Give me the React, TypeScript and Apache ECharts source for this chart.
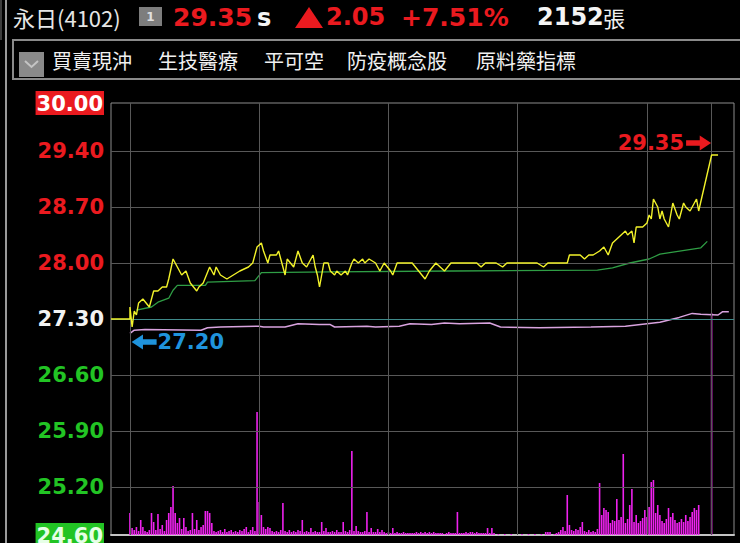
import React, { useEffect, useRef } from "react";
import * as echarts from "echarts";

// ---- header / toolbar texts ----
const stockName = "永日(4102)";
const lastPrice = "29.35";
const tradeFlag = "s";
const change = "2.05";
const changePct = "+7.51%";
const totalVolume = "2152";
const volumeUnit = "張";
const tabs = ["買賣現沖", "生技醫療", "平可空", "防疫概念股", "原料藥指標"];

// ---- axes ----
const prevClose = 27.3;
const yMin = 24.6; // limit down
const yMax = 30.0; // limit up
const priceTicks = [30.0, 29.4, 28.7, 28.0, 27.3, 26.6, 25.9, 25.2, 24.6];
const gridPrices = [29.4, 28.7, 28.0, 26.6, 25.9, 25.2];
const hourMarks = [0, 60, 120, 180, 240, 270]; // minutes after 09:00
const xMin = -8.8;
const xMax = 280.4;
const volMax = 432;

// ---- price (minute after 09:00, price) ----
const price: [number, number][] = [
  [0, 27.45], [1, 27.2], [2, 27.4], [3, 27.35], [4, 27.5], [6, 27.55], [9, 27.45], [11, 27.65],
  [13, 27.65], [15, 27.7], [17, 27.7], [18, 27.8], [20, 28.05], [22, 27.95], [24, 27.85], [26, 27.9],
  [28, 27.75], [31, 27.65], [32, 27.7], [34, 27.75], [37, 27.95], [39, 27.85], [40, 27.95], [42, 27.85],
  [45, 27.8], [48, 27.85], [51, 27.9], [55, 27.95], [57, 28.0], [59, 28.2], [61, 28.25], [62, 28.15],
  [64, 28.0], [65, 28.1], [68, 28.1], [69, 28.15], [71, 27.95], [72, 27.85], [73, 28.05], [76, 27.95],
  [78, 28.15], [80, 28.0], [82, 27.95], [85, 28.1], [86, 27.95], [87, 27.85], [88, 27.7], [90, 28.0],
  [92, 28.0], [93, 27.9], [95, 27.85], [96, 27.9], [98, 27.85], [100, 27.9], [101, 27.85], [103, 28.0],
  [104, 28.05], [106, 28.0], [108, 28.05], [109, 28.0], [111, 28.05], [114, 28.0], [116, 27.9], [118, 28.0],
  [121, 27.9], [122, 27.85], [124, 28.0], [127, 28.0], [131, 28.0], [134, 27.9], [137, 27.8], [139, 27.9],
  [142, 28.0], [144, 27.95], [146, 27.9], [149, 28.0], [152, 28.0], [161, 28.0], [163, 27.95], [165, 28.0],
  [170, 28.0], [173, 27.95], [175, 28.0], [189, 28.0], [192, 27.95], [194, 28.0], [203, 28.0], [204, 28.1],
  [209, 28.1], [211, 28.05], [213, 28.1], [215, 28.1], [218, 28.15], [220, 28.2], [222, 28.1], [224, 28.25],
  [226, 28.3], [228, 28.35], [230, 28.4], [231, 28.35], [233, 28.4], [234, 28.25], [235, 28.45], [238, 28.45],
  [240, 28.5], [241, 28.6], [242, 28.55], [243, 28.8], [245, 28.7], [246, 28.55], [247, 28.65], [248, 28.55],
  [250, 28.45], [252, 28.75], [254, 28.6], [255, 28.55], [257, 28.75], [258, 28.7], [260, 28.65], [262, 28.75],
  [263, 28.8], [264, 28.65], [270, 29.35], [273, 29.35],
];

// ---- average price ----
const avgPrice: [number, number][] = [
  [3, 27.41], [10, 27.45], [13, 27.51], [18, 27.56], [20, 27.66], [22, 27.72], [35, 27.72], [36, 27.76],
  [58, 27.78], [61, 27.88], [93, 27.89], [150, 27.9], [217, 27.91], [224, 27.94], [232, 28.0], [241, 28.05],
  [246, 28.11], [265, 28.19], [268, 28.27],
];

// ---- lavender indicator line ----
const indicator: [number, number][] = [
  [0, 27.12], [2, 27.16], [7, 27.17], [33, 27.16], [36, 27.19], [42, 27.2], [60, 27.21], [62, 27.2],
  [72, 27.2], [78, 27.24], [88, 27.23], [93, 27.23], [95, 27.2], [110, 27.21], [114, 27.2], [125, 27.21],
  [130, 27.24], [140, 27.23], [146, 27.25], [153, 27.24], [167, 27.25], [172, 27.2], [190, 27.19],
  [214, 27.2], [230, 27.21], [246, 27.26], [255, 27.32], [261, 27.37], [265, 27.36], [273, 27.35], [275, 27.39],
  [278, 27.39],
];

// ---- volume per minute (張), minutes 0..264, plus closing auction ----
const volume = [
  22, 7, 5, 8, 4, 15, 8, 4, 3, 5,
  22, 13, 5, 21, 6, 10, 4, 15, 22, 28,
  49, 22, 12, 17, 6, 17, 8, 4, 5, 22,
  6, 15, 5, 8, 10, 24, 24, 22, 12, 4,
  3, 4, 5, 3, 6, 3, 4, 5, 3, 4,
  3, 5, 4, 6, 8, 3, 5, 8, 4, 123,
  33, 20, 8, 6, 8, 7, 4, 3, 4, 3,
  5, 32, 4, 3, 5, 3, 4, 3, 5, 4,
  15, 3, 4, 3, 7, 3, 4, 3, 3, 13,
  4, 7, 3, 3, 4, 3, 5, 3, 3, 13,
  4, 3, 5, 84, 4, 9, 4, 3, 3, 4,
  23, 3, 7, 3, 3, 6, 3, 5, 3, 2,
  3, 2, 7, 2, 3, 2, 2, 3, 2, 2,
  2, 2, 2, 3, 2, 3, 2, 3, 2, 3,
  2, 3, 2, 2, 2, 2, 1, 2, 3, 2,
  2, 2, 23, 2, 2, 2, 3, 2, 3, 3,
  2, 3, 2, 2, 2, 2, 7, 2, 7, 2,
  0, 1, 0, 0, 1, 0, 0, 1, 0, 0,
  0, 0, 1, 0, 0, 1, 0, 0, 1, 0,
  0, 1, 0, 3, 3, 3, 0, 1, 2, 3,
  5, 8, 4, 40, 10, 5, 4, 6, 5, 8,
  13, 4, 3, 5, 3, 4, 3, 6, 52, 20,
  27, 25, 23, 12, 15, 14, 36, 15, 18, 81,
  12, 16, 30, 46, 13, 20, 12, 14, 17, 25,
  18, 28, 53, 55, 22, 30, 20, 14, 12, 16,
  27, 18, 22, 15, 12, 13, 16, 13, 20, 14,
  18, 23, 27, 25, 30,
];
const closeMinute = 270;
const closeVolume = 222;

// ---- annotations ----
const highMark: [number, number] = [270, 29.35];
const lowMark: [number, number] = [1, 27.2];

const RED = "#ea1a1f";
const GREEN = "#22c424";
const BLUE = "#1f93dc";
const NUM_FONT = "DejaVu Sans";
const CJK_FONT = "Noto Sans CJK TC";

const arrowRight = "path://M0,5 L12,5 L12,0 L22,8 L12,16 L12,11 L0,11 Z";
const arrowLeft = "path://M22,5 L10,5 L10,0 L0,8 L10,16 L10,11 L22,11 Z";

function txt(text: string, x: number, y: number, fill: string, fontSize: number, fontWeight: string, fontFamily: string) {
  return {
    type: "text",
    x,
    y,
    silent: true,
    style: {
      text,
      fill,
      fontSize,
      fontWeight,
      fontFamily,
      align: "left",
      verticalAlign: "middle",
      textAlign: "left",
      textVerticalAlign: "middle",
    },
  };
}

export default function App() {
  const ref = useRef<HTMLDivElement>(null);

  useEffect(() => {
    document.body.style.margin = "0";
    document.body.style.background = "#000";
    if (!ref.current) return;
    const chart = echarts.init(ref.current, null, { renderer: "svg" });

    const volData = volume
      .map((v, i) => [i, v])
      .filter((d) => d[1] > 0)
      .concat([[closeMinute, closeVolume]]);
    const priceData = ([[xMin, prevClose], [0, prevClose]] as [number, number][]).concat(price);

    const labelStyle = { fontFamily: NUM_FONT, fontWeight: "bold", fontSize: 21 } as any;

    const tabX = [52, 158, 264, 347, 476];

    const graphic: any[] = [
      // left frame lines
      { type: "line", silent: true, shape: { x1: 6, y1: 0, x2: 6, y2: 543 }, style: { stroke: "#9a9a9a", lineWidth: 2 } },
      { type: "line", silent: true, shape: { x1: 1, y1: 0, x2: 1, y2: 40 }, style: { stroke: "#7a7a7a", lineWidth: 1 } },
      // header
      txt(stockName, 13, 17, "#e6e6e6", 22, "normal", CJK_FONT),
      { type: "rect", silent: true, shape: { x: 139, y: 7, width: 23, height: 19 }, style: { fill: "#7d7d7d" } },
      { type: "text", silent: true, x: 150.5, y: 16.5, style: { text: "1", fill: "#e0e0e0", fontSize: 12, fontWeight: "bold", fontFamily: NUM_FONT, align: "center", verticalAlign: "middle", textAlign: "center", textVerticalAlign: "middle" } },
      txt(lastPrice, 173, 17, RED, 25, "bold", NUM_FONT),
      txt(tradeFlag, 257, 18, "#f4f4f4", 24, "bold", NUM_FONT),
      { type: "polygon", silent: true, shape: { points: [[295, 28], [309, 7], [323, 28]] }, style: { fill: RED } },
      txt(change, 326, 17, RED, 24, "bold", NUM_FONT),
      txt(changePct, 401, 17, RED, 25, "bold", NUM_FONT),
      txt(totalVolume, 537, 17, "#f4f4f4", 24, "bold", NUM_FONT),
      txt(volumeUnit, 603, 17, "#f0f0f0", 22, "normal", CJK_FONT),
      // toolbar
      { type: "rect", silent: true, shape: { x: 13, y: 40, width: 740, height: 39 }, style: { fill: "none", stroke: "#8a8a8a", lineWidth: 2 } },
      { type: "rect", silent: true, shape: { x: 19, y: 52, width: 25, height: 25 }, style: { fill: "#8a8a8a" } },
      { type: "polyline", silent: true, shape: { points: [[25, 61], [31.5, 67], [38, 61]] }, style: { stroke: "#c4c4c4", lineWidth: 2, fill: "none" } },
      ...tabs.map((t, i) => txt(t, tabX[i], 60, "#f0f0f0", 20, "normal", CJK_FONT)),
    ];

    const option: any = {
      animation: false,
      backgroundColor: "#000",
      graphic,
      grid: {
        left: 111,
        top: 103,
        width: 623,
        height: 432,
        show: true,
        borderColor: "#8c8c8c",
        borderWidth: 1,
        backgroundColor: "transparent",
        containLabel: false,
        outerBoundsMode: "none",
      },
      xAxis: {
        type: "value",
        min: xMin,
        max: xMax,
        axisLabel: { show: false },
        axisTick: { show: false },
        splitLine: { show: false },
        axisLine: { show: true, onZero: false, lineStyle: { color: "#c4c4c4", width: 2 } },
      },
      yAxis: [
        {
          type: "value",
          min: yMin,
          max: yMax,
          axisLine: { show: false },
          axisTick: { show: false },
          splitLine: { show: false },
          axisLabel: {
            show: true,
            customValues: priceTicks,
            showMinLabel: true,
            showMaxLabel: true,
            margin: 7,
            formatter: (v: number) => {
              const s = v.toFixed(2);
              if (v >= yMax - 0.001) return `{lim|${s}}`;
              if (v <= yMin + 0.001) return `{low|${s}}`;
              if (v > prevClose + 0.001) return `{up|${s}}`;
              if (v < prevClose - 0.001) return `{dn|${s}}`;
              return `{flat|${s}}`;
            },
            rich: {
              lim: { ...labelStyle, color: "#ffffff", backgroundColor: RED, padding: [2, 1, 1, 1] },
              low: { ...labelStyle, color: "#e6ffe6", backgroundColor: GREEN, padding: [2, 1, 1, 1] },
              up: { ...labelStyle, color: RED },
              dn: { ...labelStyle, color: GREEN },
              flat: { ...labelStyle, color: "#f2f2f2" },
            },
          },
        },
        { type: "value", min: 0, max: volMax, show: false },
      ],
      series: [
        {
          type: "line",
          name: "grid",
          data: [],
          z: 0,
          silent: true,
          markLine: {
            silent: true,
            symbol: ["none", "none"],
            label: { show: false },
            lineStyle: { color: "#585858", width: 1, type: "solid" },
            data: [
              ...gridPrices.map((v) => ({ yAxis: v })),
              ...hourMarks.map((m) => ({ xAxis: m })),
              { yAxis: prevClose, lineStyle: { color: "#3f8a8a", width: 1, type: "solid" } },
            ],
          },
        },
        {
          type: "bar",
          name: "volume",
          yAxisIndex: 1,
          data: volData,
          barWidth: 1.6,
          itemStyle: { color: "#ee22ee" },
          z: 2,
        },
        {
          type: "line",
          name: "indicator",
          data: indicator,
          symbol: "none",
          lineStyle: { color: "#d9a3df", width: 1.5 },
          z: 3,
        },
        {
          type: "line",
          name: "avg",
          data: avgPrice,
          symbol: "none",
          lineStyle: { color: "#2f9e45", width: 1.3 },
          z: 4,
        },
        {
          type: "line",
          name: "price",
          data: priceData,
          symbol: "none",
          lineStyle: { color: "#f2f22a", width: 1.4 },
          z: 5,
          markPoint: {
            silent: true,
            data: [
              {
                coord: highMark,
                value: highMark[1],
                symbol: arrowRight,
                symbolSize: [25, 15],
                symbolOffset: [-13, -12],
                itemStyle: { color: RED },
                label: {
                  show: true,
                  position: "left",
                  distance: 2,
                  formatter: (p: any) => Number(p.value).toFixed(2),
                  color: RED,
                  fontSize: 21,
                  fontWeight: "bold",
                  fontFamily: NUM_FONT,
                },
              },
              {
                coord: lowMark,
                value: lowMark[1],
                symbol: arrowLeft,
                symbolSize: [25, 15],
                symbolOffset: [12, 15],
                itemStyle: { color: BLUE },
                label: {
                  show: true,
                  position: "right",
                  distance: 1,
                  formatter: (p: any) => Number(p.value).toFixed(2),
                  color: BLUE,
                  fontSize: 21,
                  fontWeight: "bold",
                  fontFamily: NUM_FONT,
                },
              },
            ],
          },
        },
      ],
    };

    chart.setOption(option);
    return () => chart.dispose();
  }, []);

  return <div ref={ref} style={{ width: 740, height: 543, background: "#000" }} />;
}
